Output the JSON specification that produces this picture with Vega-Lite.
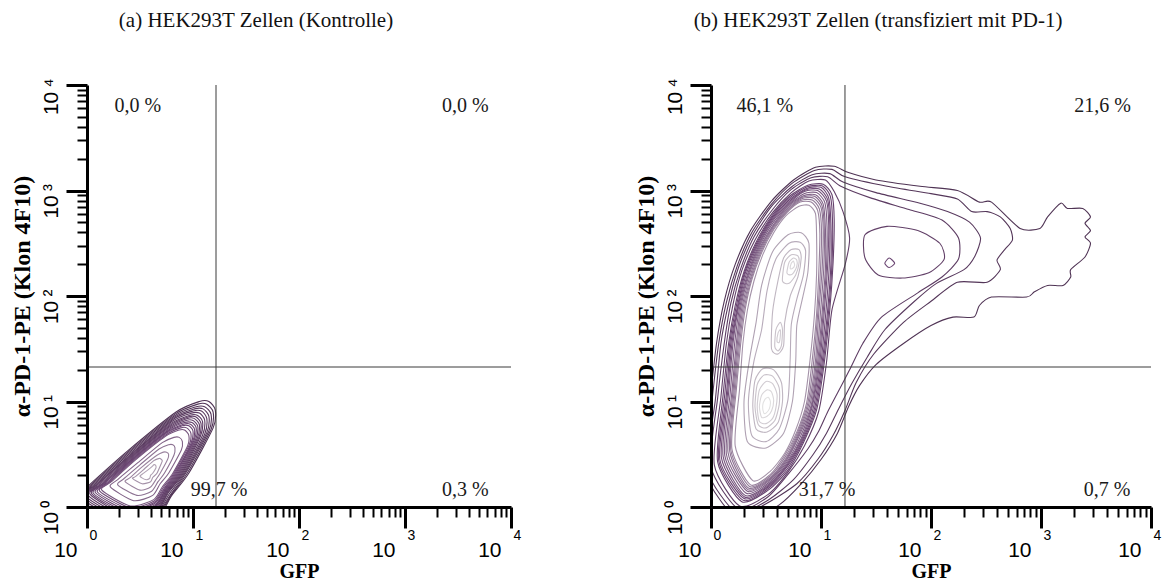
{
"$schema": "https://vega.github.io/schema/vega-lite/v6.json",
"background": "white",
"padding": {"left": 10, "top": 10, "right": 2, "bottom": 0},
"spacing": 113,
"config": {"view": {"stroke": null}, "axis": {"grid": false}},
"datasets": {
"left": [
{"id":"L1","level":1,"i":0,"gfp":-0.15,"pe":0.05},{"id":"L1","level":1,"i":1,"gfp":0.0,"pe":0.19},{"id":"L1","level":1,"i":2,"gfp":0.37,"pe":0.52},{"id":"L1","level":1,"i":3,"gfp":0.84,"pe":0.90},{"id":"L1","level":1,"i":4,"gfp":1.06,"pe":1.00},{"id":"L1","level":1,"i":5,"gfp":1.15,"pe":1.00},{"id":"L1","level":1,"i":6,"gfp":1.21,"pe":0.92},{"id":"L1","level":1,"i":7,"gfp":1.19,"pe":0.75},{"id":"L1","level":1,"i":8,"gfp":0.96,"pe":0.32},{"id":"L1","level":1,"i":9,"gfp":0.80,"pe":0.11},{"id":"L1","level":1,"i":10,"gfp":0.66,"pe":-0.10},{"id":"L1","level":1,"i":11,"gfp":0.30,"pe":-0.20},
{"id":"L1b","level":1.5,"i":0,"gfp":-0.125,"pe":0.06},{"id":"L1b","level":1.5,"i":1,"gfp":0.02,"pe":0.195},{"id":"L1b","level":1.5,"i":2,"gfp":0.38,"pe":0.515},{"id":"L1b","level":1.5,"i":3,"gfp":0.83,"pe":0.88},{"id":"L1b","level":1.5,"i":4,"gfp":1.045,"pe":0.975},{"id":"L1b","level":1.5,"i":5,"gfp":1.13,"pe":0.975},{"id":"L1b","level":1.5,"i":6,"gfp":1.19,"pe":0.90},{"id":"L1b","level":1.5,"i":7,"gfp":1.17,"pe":0.735},{"id":"L1b","level":1.5,"i":8,"gfp":0.945,"pe":0.32},{"id":"L1b","level":1.5,"i":9,"gfp":0.795,"pe":0.115},{"id":"L1b","level":1.5,"i":10,"gfp":0.655,"pe":-0.085},{"id":"L1b","level":1.5,"i":11,"gfp":0.31,"pe":-0.18},
{"id":"L2","level":2,"i":0,"gfp":-0.10,"pe":0.07},{"id":"L2","level":2,"i":1,"gfp":0.04,"pe":0.20},{"id":"L2","level":2,"i":2,"gfp":0.39,"pe":0.51},{"id":"L2","level":2,"i":3,"gfp":0.82,"pe":0.86},{"id":"L2","level":2,"i":4,"gfp":1.03,"pe":0.95},{"id":"L2","level":2,"i":5,"gfp":1.11,"pe":0.95},{"id":"L2","level":2,"i":6,"gfp":1.17,"pe":0.88},{"id":"L2","level":2,"i":7,"gfp":1.15,"pe":0.72},{"id":"L2","level":2,"i":8,"gfp":0.93,"pe":0.32},{"id":"L2","level":2,"i":9,"gfp":0.79,"pe":0.12},{"id":"L2","level":2,"i":10,"gfp":0.65,"pe":-0.07},{"id":"L2","level":2,"i":11,"gfp":0.32,"pe":-0.16},
{"id":"L2b","level":2.5,"i":0,"gfp":-0.08,"pe":0.08},{"id":"L2b","level":2.5,"i":1,"gfp":0.06,"pe":0.205},{"id":"L2b","level":2.5,"i":2,"gfp":0.395,"pe":0.50},{"id":"L2b","level":2.5,"i":3,"gfp":0.815,"pe":0.845},{"id":"L2b","level":2.5,"i":4,"gfp":1.015,"pe":0.93},{"id":"L2b","level":2.5,"i":5,"gfp":1.095,"pe":0.93},{"id":"L2b","level":2.5,"i":6,"gfp":1.15,"pe":0.86},{"id":"L2b","level":2.5,"i":7,"gfp":1.13,"pe":0.705},{"id":"L2b","level":2.5,"i":8,"gfp":0.92,"pe":0.32},{"id":"L2b","level":2.5,"i":9,"gfp":0.78,"pe":0.13},{"id":"L2b","level":2.5,"i":10,"gfp":0.65,"pe":-0.06},{"id":"L2b","level":2.5,"i":11,"gfp":0.33,"pe":-0.145},
{"id":"L3","level":3,"i":0,"gfp":-0.06,"pe":0.09},{"id":"L3","level":3,"i":1,"gfp":0.08,"pe":0.21},{"id":"L3","level":3,"i":2,"gfp":0.40,"pe":0.49},{"id":"L3","level":3,"i":3,"gfp":0.81,"pe":0.83},{"id":"L3","level":3,"i":4,"gfp":1.00,"pe":0.91},{"id":"L3","level":3,"i":5,"gfp":1.08,"pe":0.91},{"id":"L3","level":3,"i":6,"gfp":1.13,"pe":0.84},{"id":"L3","level":3,"i":7,"gfp":1.11,"pe":0.69},{"id":"L3","level":3,"i":8,"gfp":0.91,"pe":0.32},{"id":"L3","level":3,"i":9,"gfp":0.77,"pe":0.14},{"id":"L3","level":3,"i":10,"gfp":0.65,"pe":-0.05},{"id":"L3","level":3,"i":11,"gfp":0.34,"pe":-0.13},
{"id":"L3b","level":3.5,"i":0,"gfp":-0.035,"pe":0.095},{"id":"L3b","level":3.5,"i":1,"gfp":0.095,"pe":0.215},{"id":"L3b","level":3.5,"i":2,"gfp":0.405,"pe":0.485},{"id":"L3b","level":3.5,"i":3,"gfp":0.80,"pe":0.81},{"id":"L3b","level":3.5,"i":4,"gfp":0.985,"pe":0.89},{"id":"L3b","level":3.5,"i":5,"gfp":1.06,"pe":0.89},{"id":"L3b","level":3.5,"i":6,"gfp":1.11,"pe":0.825},{"id":"L3b","level":3.5,"i":7,"gfp":1.09,"pe":0.68},{"id":"L3b","level":3.5,"i":8,"gfp":0.90,"pe":0.32},{"id":"L3b","level":3.5,"i":9,"gfp":0.765,"pe":0.145},{"id":"L3b","level":3.5,"i":10,"gfp":0.65,"pe":-0.035},{"id":"L3b","level":3.5,"i":11,"gfp":0.345,"pe":-0.115},
{"id":"L4","level":4,"i":0,"gfp":-0.01,"pe":0.10},{"id":"L4","level":4,"i":1,"gfp":0.11,"pe":0.22},{"id":"L4","level":4,"i":2,"gfp":0.41,"pe":0.48},{"id":"L4","level":4,"i":3,"gfp":0.79,"pe":0.79},{"id":"L4","level":4,"i":4,"gfp":0.97,"pe":0.87},{"id":"L4","level":4,"i":5,"gfp":1.04,"pe":0.87},{"id":"L4","level":4,"i":6,"gfp":1.09,"pe":0.81},{"id":"L4","level":4,"i":7,"gfp":1.07,"pe":0.67},{"id":"L4","level":4,"i":8,"gfp":0.89,"pe":0.32},{"id":"L4","level":4,"i":9,"gfp":0.76,"pe":0.15},{"id":"L4","level":4,"i":10,"gfp":0.65,"pe":-0.02},{"id":"L4","level":4,"i":11,"gfp":0.35,"pe":-0.10},
{"id":"L4b","level":4.5,"i":0,"gfp":0.01,"pe":0.11},{"id":"L4b","level":4.5,"i":1,"gfp":0.125,"pe":0.22},{"id":"L4b","level":4.5,"i":2,"gfp":0.415,"pe":0.475},{"id":"L4b","level":4.5,"i":3,"gfp":0.785,"pe":0.775},{"id":"L4b","level":4.5,"i":4,"gfp":0.96,"pe":0.855},{"id":"L4b","level":4.5,"i":5,"gfp":1.025,"pe":0.855},{"id":"L4b","level":4.5,"i":6,"gfp":1.075,"pe":0.795},{"id":"L4b","level":4.5,"i":7,"gfp":1.055,"pe":0.66},{"id":"L4b","level":4.5,"i":8,"gfp":0.88,"pe":0.32},{"id":"L4b","level":4.5,"i":9,"gfp":0.755,"pe":0.155},{"id":"L4b","level":4.5,"i":10,"gfp":0.645,"pe":-0.01},{"id":"L4b","level":4.5,"i":11,"gfp":0.36,"pe":-0.09},
{"id":"L5","level":5,"i":0,"gfp":0.03,"pe":0.12},{"id":"L5","level":5,"i":1,"gfp":0.14,"pe":0.22},{"id":"L5","level":5,"i":2,"gfp":0.42,"pe":0.47},{"id":"L5","level":5,"i":3,"gfp":0.78,"pe":0.76},{"id":"L5","level":5,"i":4,"gfp":0.95,"pe":0.84},{"id":"L5","level":5,"i":5,"gfp":1.01,"pe":0.84},{"id":"L5","level":5,"i":6,"gfp":1.06,"pe":0.78},{"id":"L5","level":5,"i":7,"gfp":1.04,"pe":0.65},{"id":"L5","level":5,"i":8,"gfp":0.87,"pe":0.32},{"id":"L5","level":5,"i":9,"gfp":0.75,"pe":0.16},{"id":"L5","level":5,"i":10,"gfp":0.64,"pe":0.00},{"id":"L5","level":5,"i":11,"gfp":0.37,"pe":-0.08},
{"id":"L5b","level":5.5,"i":0,"gfp":0.045,"pe":0.125},{"id":"L5b","level":5.5,"i":1,"gfp":0.155,"pe":0.225},{"id":"L5b","level":5.5,"i":2,"gfp":0.425,"pe":0.465},{"id":"L5b","level":5.5,"i":3,"gfp":0.775,"pe":0.745},{"id":"L5b","level":5.5,"i":4,"gfp":0.935,"pe":0.82},{"id":"L5b","level":5.5,"i":5,"gfp":1.00,"pe":0.82},{"id":"L5b","level":5.5,"i":6,"gfp":1.045,"pe":0.765},{"id":"L5b","level":5.5,"i":7,"gfp":1.025,"pe":0.64},{"id":"L5b","level":5.5,"i":8,"gfp":0.86,"pe":0.32},{"id":"L5b","level":5.5,"i":9,"gfp":0.745,"pe":0.165},{"id":"L5b","level":5.5,"i":10,"gfp":0.64,"pe":0.01},{"id":"L5b","level":5.5,"i":11,"gfp":0.375,"pe":-0.065},
{"id":"L6","level":6,"i":0,"gfp":0.06,"pe":0.13},{"id":"L6","level":6,"i":1,"gfp":0.17,"pe":0.23},{"id":"L6","level":6,"i":2,"gfp":0.43,"pe":0.46},{"id":"L6","level":6,"i":3,"gfp":0.77,"pe":0.73},{"id":"L6","level":6,"i":4,"gfp":0.92,"pe":0.80},{"id":"L6","level":6,"i":5,"gfp":0.99,"pe":0.80},{"id":"L6","level":6,"i":6,"gfp":1.03,"pe":0.75},{"id":"L6","level":6,"i":7,"gfp":1.01,"pe":0.63},{"id":"L6","level":6,"i":8,"gfp":0.85,"pe":0.32},{"id":"L6","level":6,"i":9,"gfp":0.74,"pe":0.17},{"id":"L6","level":6,"i":10,"gfp":0.64,"pe":0.02},{"id":"L6","level":6,"i":11,"gfp":0.38,"pe":-0.05},
{"id":"L6b","level":6.5,"i":0,"gfp":0.08,"pe":0.135},{"id":"L6b","level":6.5,"i":1,"gfp":0.185,"pe":0.23},{"id":"L6b","level":6.5,"i":2,"gfp":0.435,"pe":0.455},{"id":"L6b","level":6.5,"i":3,"gfp":0.76,"pe":0.715},{"id":"L6b","level":6.5,"i":4,"gfp":0.91,"pe":0.785},{"id":"L6b","level":6.5,"i":5,"gfp":0.975,"pe":0.785},{"id":"L6b","level":6.5,"i":6,"gfp":1.015,"pe":0.735},{"id":"L6b","level":6.5,"i":7,"gfp":0.995,"pe":0.615},{"id":"L6b","level":6.5,"i":8,"gfp":0.84,"pe":0.32},{"id":"L6b","level":6.5,"i":9,"gfp":0.735,"pe":0.175},{"id":"L6b","level":6.5,"i":10,"gfp":0.635,"pe":0.03},{"id":"L6b","level":6.5,"i":11,"gfp":0.39,"pe":-0.035},
{"id":"L7","level":7,"i":0,"gfp":0.10,"pe":0.14},{"id":"L7","level":7,"i":1,"gfp":0.20,"pe":0.23},{"id":"L7","level":7,"i":2,"gfp":0.44,"pe":0.45},{"id":"L7","level":7,"i":3,"gfp":0.75,"pe":0.70},{"id":"L7","level":7,"i":4,"gfp":0.90,"pe":0.77},{"id":"L7","level":7,"i":5,"gfp":0.96,"pe":0.77},{"id":"L7","level":7,"i":6,"gfp":1.00,"pe":0.72},{"id":"L7","level":7,"i":7,"gfp":0.98,"pe":0.60},{"id":"L7","level":7,"i":8,"gfp":0.83,"pe":0.32},{"id":"L7","level":7,"i":9,"gfp":0.73,"pe":0.18},{"id":"L7","level":7,"i":10,"gfp":0.63,"pe":0.04},{"id":"L7","level":7,"i":11,"gfp":0.40,"pe":-0.02},
{"id":"L7b","level":7.5,"i":0,"gfp":0.12,"pe":0.15},{"id":"L7b","level":7.5,"i":1,"gfp":0.215,"pe":0.235},{"id":"L7b","level":7.5,"i":2,"gfp":0.445,"pe":0.445},{"id":"L7b","level":7.5,"i":3,"gfp":0.745,"pe":0.685},{"id":"L7b","level":7.5,"i":4,"gfp":0.885,"pe":0.75},{"id":"L7b","level":7.5,"i":5,"gfp":0.94,"pe":0.75},{"id":"L7b","level":7.5,"i":6,"gfp":0.98,"pe":0.70},{"id":"L7b","level":7.5,"i":7,"gfp":0.965,"pe":0.59},{"id":"L7b","level":7.5,"i":8,"gfp":0.82,"pe":0.32},{"id":"L7b","level":7.5,"i":9,"gfp":0.72,"pe":0.185},{"id":"L7b","level":7.5,"i":10,"gfp":0.63,"pe":0.055},{"id":"L7b","level":7.5,"i":11,"gfp":0.405,"pe":-0.005},
{"id":"L8","level":8,"i":0,"gfp":0.14,"pe":0.16},{"id":"L8","level":8,"i":1,"gfp":0.23,"pe":0.24},{"id":"L8","level":8,"i":2,"gfp":0.45,"pe":0.44},{"id":"L8","level":8,"i":3,"gfp":0.74,"pe":0.67},{"id":"L8","level":8,"i":4,"gfp":0.87,"pe":0.73},{"id":"L8","level":8,"i":5,"gfp":0.92,"pe":0.73},{"id":"L8","level":8,"i":6,"gfp":0.96,"pe":0.68},{"id":"L8","level":8,"i":7,"gfp":0.95,"pe":0.58},{"id":"L8","level":8,"i":8,"gfp":0.81,"pe":0.32},{"id":"L8","level":8,"i":9,"gfp":0.71,"pe":0.19},{"id":"L8","level":8,"i":10,"gfp":0.63,"pe":0.07},{"id":"L8","level":8,"i":11,"gfp":0.41,"pe":0.01},
{"id":"L9","level":9,"i":0,"gfp":0.22,"pe":0.19},{"id":"L9","level":9,"i":1,"gfp":0.29,"pe":0.26},{"id":"L9","level":9,"i":2,"gfp":0.48,"pe":0.42},{"id":"L9","level":9,"i":3,"gfp":0.71,"pe":0.61},{"id":"L9","level":9,"i":4,"gfp":0.82,"pe":0.66},{"id":"L9","level":9,"i":5,"gfp":0.87,"pe":0.66},{"id":"L9","level":9,"i":6,"gfp":0.90,"pe":0.62},{"id":"L9","level":9,"i":7,"gfp":0.89,"pe":0.54},{"id":"L9","level":9,"i":8,"gfp":0.77,"pe":0.32},{"id":"L9","level":9,"i":9,"gfp":0.69,"pe":0.22},{"id":"L9","level":9,"i":10,"gfp":0.62,"pe":0.11},{"id":"L9","level":9,"i":11,"gfp":0.44,"pe":0.06},
{"id":"L10","level":10,"i":0,"gfp":0.29,"pe":0.21},{"id":"L10","level":10,"i":1,"gfp":0.35,"pe":0.27},{"id":"L10","level":10,"i":2,"gfp":0.50,"pe":0.40},{"id":"L10","level":10,"i":3,"gfp":0.68,"pe":0.55},{"id":"L10","level":10,"i":4,"gfp":0.77,"pe":0.59},{"id":"L10","level":10,"i":5,"gfp":0.81,"pe":0.59},{"id":"L10","level":10,"i":6,"gfp":0.83,"pe":0.56},{"id":"L10","level":10,"i":7,"gfp":0.82,"pe":0.49},{"id":"L10","level":10,"i":8,"gfp":0.73,"pe":0.32},{"id":"L10","level":10,"i":9,"gfp":0.67,"pe":0.24},{"id":"L10","level":10,"i":10,"gfp":0.61,"pe":0.15},{"id":"L10","level":10,"i":11,"gfp":0.47,"pe":0.11},
{"id":"L11","level":11,"i":0,"gfp":0.36,"pe":0.24},{"id":"L11","level":11,"i":1,"gfp":0.41,"pe":0.28},{"id":"L11","level":11,"i":2,"gfp":0.52,"pe":0.38},{"id":"L11","level":11,"i":3,"gfp":0.66,"pe":0.49},{"id":"L11","level":11,"i":4,"gfp":0.72,"pe":0.52},{"id":"L11","level":11,"i":5,"gfp":0.75,"pe":0.52},{"id":"L11","level":11,"i":6,"gfp":0.77,"pe":0.50},{"id":"L11","level":11,"i":7,"gfp":0.76,"pe":0.45},{"id":"L11","level":11,"i":8,"gfp":0.69,"pe":0.32},{"id":"L11","level":11,"i":9,"gfp":0.65,"pe":0.26},{"id":"L11","level":11,"i":10,"gfp":0.60,"pe":0.19},{"id":"L11","level":11,"i":11,"gfp":0.50,"pe":0.16},
{"id":"L12","level":12,"i":0,"gfp":0.43,"pe":0.27},{"id":"L12","level":12,"i":1,"gfp":0.46,"pe":0.29},{"id":"L12","level":12,"i":2,"gfp":0.54,"pe":0.36},{"id":"L12","level":12,"i":3,"gfp":0.63,"pe":0.44},{"id":"L12","level":12,"i":4,"gfp":0.68,"pe":0.46},{"id":"L12","level":12,"i":5,"gfp":0.69,"pe":0.46},{"id":"L12","level":12,"i":6,"gfp":0.71,"pe":0.44},{"id":"L12","level":12,"i":7,"gfp":0.70,"pe":0.41},{"id":"L12","level":12,"i":8,"gfp":0.66,"pe":0.32},{"id":"L12","level":12,"i":9,"gfp":0.62,"pe":0.28},{"id":"L12","level":12,"i":10,"gfp":0.60,"pe":0.24},{"id":"L12","level":12,"i":11,"gfp":0.52,"pe":0.22},
{"id":"L13","level":13,"i":0,"gfp":0.50,"pe":0.29},{"id":"L13","level":13,"i":1,"gfp":0.52,"pe":0.31},{"id":"L13","level":13,"i":2,"gfp":0.56,"pe":0.34},{"id":"L13","level":13,"i":3,"gfp":0.61,"pe":0.38},{"id":"L13","level":13,"i":4,"gfp":0.63,"pe":0.40},{"id":"L13","level":13,"i":5,"gfp":0.64,"pe":0.40},{"id":"L13","level":13,"i":6,"gfp":0.65,"pe":0.39},{"id":"L13","level":13,"i":7,"gfp":0.65,"pe":0.37},{"id":"L13","level":13,"i":8,"gfp":0.62,"pe":0.32},{"id":"L13","level":13,"i":9,"gfp":0.60,"pe":0.30},{"id":"L13","level":13,"i":10,"gfp":0.59,"pe":0.27},{"id":"L13","level":13,"i":11,"gfp":0.55,"pe":0.26}
],
"right": [
{"id":"R1","level":1,"i":0,"gfp":-0.08,"pe":0.30},{"id":"R1","level":1,"i":1,"gfp":-0.01,"pe":1.00},{"id":"R1","level":1,"i":2,"gfp":0.05,"pe":1.55},{"id":"R1","level":1,"i":3,"gfp":0.12,"pe":1.95},{"id":"R1","level":1,"i":4,"gfp":0.22,"pe":2.30},{"id":"R1","level":1,"i":5,"gfp":0.36,"pe":2.62},{"id":"R1","level":1,"i":6,"gfp":0.55,"pe":2.90},{"id":"R1","level":1,"i":7,"gfp":0.75,"pe":3.10},{"id":"R1","level":1,"i":8,"gfp":0.95,"pe":3.22},{"id":"R1","level":1,"i":9,"gfp":1.12,"pe":3.23},{"id":"R1","level":1,"i":10,"gfp":1.25,"pe":3.17},{"id":"R1","level":1,"i":11,"gfp":1.50,"pe":3.10},{"id":"R1","level":1,"i":12,"gfp":1.90,"pe":3.04},{"id":"R1","level":1,"i":13,"gfp":2.24,"pe":3.00},{"id":"R1","level":1,"i":14,"gfp":2.44,"pe":2.89},{"id":"R1","level":1,"i":15,"gfp":2.55,"pe":2.89},{"id":"R1","level":1,"i":16,"gfp":2.81,"pe":2.64},{"id":"R1","level":1,"i":17,"gfp":2.99,"pe":2.64},{"id":"R1","level":1,"i":18,"gfp":3.06,"pe":2.75},{"id":"R1","level":1,"i":19,"gfp":3.18,"pe":2.88},{"id":"R1","level":1,"i":20,"gfp":3.24,"pe":2.83},{"id":"R1","level":1,"i":21,"gfp":3.38,"pe":2.83},{"id":"R1","level":1,"i":22,"gfp":3.45,"pe":2.75},{"id":"R1","level":1,"i":23,"gfp":3.40,"pe":2.69},{"id":"R1","level":1,"i":24,"gfp":3.45,"pe":2.62},{"id":"R1","level":1,"i":25,"gfp":3.40,"pe":2.56},{"id":"R1","level":1,"i":26,"gfp":3.45,"pe":2.50},{"id":"R1","level":1,"i":27,"gfp":3.40,"pe":2.37},{"id":"R1","level":1,"i":28,"gfp":3.27,"pe":2.25},{"id":"R1","level":1,"i":29,"gfp":3.27,"pe":2.18},{"id":"R1","level":1,"i":30,"gfp":3.20,"pe":2.10},{"id":"R1","level":1,"i":31,"gfp":3.06,"pe":2.10},{"id":"R1","level":1,"i":32,"gfp":2.94,"pe":2.04},{"id":"R1","level":1,"i":33,"gfp":2.87,"pe":1.99},{"id":"R1","level":1,"i":34,"gfp":2.55,"pe":1.99},{"id":"R1","level":1,"i":35,"gfp":2.44,"pe":1.91},{"id":"R1","level":1,"i":36,"gfp":2.39,"pe":1.80},{"id":"R1","level":1,"i":37,"gfp":2.20,"pe":1.80},{"id":"R1","level":1,"i":38,"gfp":2.00,"pe":1.72},{"id":"R1","level":1,"i":39,"gfp":1.75,"pe":1.55},{"id":"R1","level":1,"i":40,"gfp":1.50,"pe":1.35},{"id":"R1","level":1,"i":41,"gfp":1.35,"pe":1.15},{"id":"R1","level":1,"i":42,"gfp":1.25,"pe":0.95},{"id":"R1","level":1,"i":43,"gfp":1.15,"pe":0.70},{"id":"R1","level":1,"i":44,"gfp":1.00,"pe":0.45},{"id":"R1","level":1,"i":45,"gfp":0.82,"pe":0.22},{"id":"R1","level":1,"i":46,"gfp":0.62,"pe":0.02},{"id":"R1","level":1,"i":47,"gfp":0.35,"pe":-0.12},{"id":"R1","level":1,"i":48,"gfp":0.05,"pe":-0.15},
{"id":"R2","level":2,"i":0,"gfp":-0.05,"pe":0.33},{"id":"R2","level":2,"i":1,"gfp":0.01,"pe":1.01},{"id":"R2","level":2,"i":2,"gfp":0.07,"pe":1.55},{"id":"R2","level":2,"i":3,"gfp":0.14,"pe":1.94},{"id":"R2","level":2,"i":4,"gfp":0.24,"pe":2.29},{"id":"R2","level":2,"i":5,"gfp":0.37,"pe":2.60},{"id":"R2","level":2,"i":6,"gfp":0.55,"pe":2.87},{"id":"R2","level":2,"i":7,"gfp":0.74,"pe":3.07},{"id":"R2","level":2,"i":8,"gfp":0.94,"pe":3.19},{"id":"R2","level":2,"i":9,"gfp":1.10,"pe":3.20},{"id":"R2","level":2,"i":10,"gfp":1.22,"pe":3.13},{"id":"R2","level":2,"i":11,"gfp":1.60,"pe":3.04},{"id":"R2","level":2,"i":12,"gfp":2.00,"pe":2.97},{"id":"R2","level":2,"i":13,"gfp":2.24,"pe":2.92},{"id":"R2","level":2,"i":14,"gfp":2.37,"pe":2.80},{"id":"R2","level":2,"i":15,"gfp":2.51,"pe":2.80},{"id":"R2","level":2,"i":16,"gfp":2.63,"pe":2.75},{"id":"R2","level":2,"i":17,"gfp":2.72,"pe":2.64},{"id":"R2","level":2,"i":18,"gfp":2.74,"pe":2.53},{"id":"R2","level":2,"i":19,"gfp":2.67,"pe":2.44},{"id":"R2","level":2,"i":20,"gfp":2.60,"pe":2.34},{"id":"R2","level":2,"i":21,"gfp":2.63,"pe":2.25},{"id":"R2","level":2,"i":22,"gfp":2.51,"pe":2.13},{"id":"R2","level":2,"i":23,"gfp":2.24,"pe":2.13},{"id":"R2","level":2,"i":24,"gfp":2.00,"pe":1.95},{"id":"R2","level":2,"i":25,"gfp":1.75,"pe":1.75},{"id":"R2","level":2,"i":26,"gfp":1.48,"pe":1.45},{"id":"R2","level":2,"i":27,"gfp":1.32,"pe":1.18},{"id":"R2","level":2,"i":28,"gfp":1.22,"pe":0.92},{"id":"R2","level":2,"i":29,"gfp":1.11,"pe":0.68},{"id":"R2","level":2,"i":30,"gfp":0.97,"pe":0.45},{"id":"R2","level":2,"i":31,"gfp":0.78,"pe":0.22},{"id":"R2","level":2,"i":32,"gfp":0.50,"pe":0.03},{"id":"R2","level":2,"i":33,"gfp":0.22,"pe":-0.09},
{"id":"R3","level":3,"i":0,"gfp":-0.03,"pe":0.35},{"id":"R3","level":3,"i":1,"gfp":0.04,"pe":1.02},{"id":"R3","level":3,"i":2,"gfp":0.09,"pe":1.55},{"id":"R3","level":3,"i":3,"gfp":0.16,"pe":1.93},{"id":"R3","level":3,"i":4,"gfp":0.25,"pe":2.27},{"id":"R3","level":3,"i":5,"gfp":0.38,"pe":2.58},{"id":"R3","level":3,"i":6,"gfp":0.55,"pe":2.85},{"id":"R3","level":3,"i":7,"gfp":0.74,"pe":3.04},{"id":"R3","level":3,"i":8,"gfp":0.92,"pe":3.15},{"id":"R3","level":3,"i":9,"gfp":1.08,"pe":3.16},{"id":"R3","level":3,"i":10,"gfp":1.20,"pe":3.08},{"id":"R3","level":3,"i":11,"gfp":1.50,"pe":2.98},{"id":"R3","level":3,"i":12,"gfp":1.90,"pe":2.88},{"id":"R3","level":3,"i":13,"gfp":2.15,"pe":2.80},{"id":"R3","level":3,"i":14,"gfp":2.35,"pe":2.70},{"id":"R3","level":3,"i":15,"gfp":2.45,"pe":2.55},{"id":"R3","level":3,"i":16,"gfp":2.40,"pe":2.38},{"id":"R3","level":3,"i":17,"gfp":2.30,"pe":2.25},{"id":"R3","level":3,"i":18,"gfp":2.05,"pe":2.12},{"id":"R3","level":3,"i":19,"gfp":1.85,"pe":1.95},{"id":"R3","level":3,"i":20,"gfp":1.58,"pe":1.68},{"id":"R3","level":3,"i":21,"gfp":1.42,"pe":1.42},{"id":"R3","level":3,"i":22,"gfp":1.28,"pe":1.17},{"id":"R3","level":3,"i":23,"gfp":1.16,"pe":0.93},{"id":"R3","level":3,"i":24,"gfp":1.05,"pe":0.70},{"id":"R3","level":3,"i":25,"gfp":0.93,"pe":0.50},{"id":"R3","level":3,"i":26,"gfp":0.75,"pe":0.26},{"id":"R3","level":3,"i":27,"gfp":0.51,"pe":0.06},{"id":"R3","level":3,"i":28,"gfp":0.23,"pe":-0.05},
{"id":"R4","level":4,"i":0,"gfp":0.00,"pe":0.38},{"id":"R4","level":4,"i":1,"gfp":0.06,"pe":1.03},{"id":"R4","level":4,"i":2,"gfp":0.12,"pe":1.55},{"id":"R4","level":4,"i":3,"gfp":0.18,"pe":1.93},{"id":"R4","level":4,"i":4,"gfp":0.27,"pe":2.26},{"id":"R4","level":4,"i":5,"gfp":0.39,"pe":2.56},{"id":"R4","level":4,"i":6,"gfp":0.56,"pe":2.82},{"id":"R4","level":4,"i":7,"gfp":0.73,"pe":3.01},{"id":"R4","level":4,"i":8,"gfp":0.91,"pe":3.12},{"id":"R4","level":4,"i":9,"gfp":1.06,"pe":3.13},{"id":"R4","level":4,"i":10,"gfp":1.18,"pe":3.04},{"id":"R4","level":4,"i":11,"gfp":1.45,"pe":2.93},{"id":"R4","level":4,"i":12,"gfp":1.80,"pe":2.82},{"id":"R4","level":4,"i":13,"gfp":2.10,"pe":2.72},{"id":"R4","level":4,"i":14,"gfp":2.25,"pe":2.55},{"id":"R4","level":4,"i":15,"gfp":2.25,"pe":2.35},{"id":"R4","level":4,"i":16,"gfp":2.10,"pe":2.18},{"id":"R4","level":4,"i":17,"gfp":1.88,"pe":2.03},{"id":"R4","level":4,"i":18,"gfp":1.55,"pe":1.80},{"id":"R4","level":4,"i":19,"gfp":1.38,"pe":1.55},{"id":"R4","level":4,"i":20,"gfp":1.26,"pe":1.30},{"id":"R4","level":4,"i":21,"gfp":1.15,"pe":1.08},{"id":"R4","level":4,"i":22,"gfp":1.06,"pe":0.90},{"id":"R4","level":4,"i":23,"gfp":0.98,"pe":0.72},{"id":"R4","level":4,"i":24,"gfp":0.88,"pe":0.55},{"id":"R4","level":4,"i":25,"gfp":0.70,"pe":0.31},{"id":"R4","level":4,"i":26,"gfp":0.51,"pe":0.09},{"id":"R4","level":4,"i":27,"gfp":0.25,"pe":-0.02},
{"id":"R5","level":5,"i":0,"gfp":0.03,"pe":0.40},{"id":"R5","level":5,"i":1,"gfp":0.09,"pe":1.04},{"id":"R5","level":5,"i":2,"gfp":0.14,"pe":1.55},{"id":"R5","level":5,"i":3,"gfp":0.20,"pe":1.92},{"id":"R5","level":5,"i":4,"gfp":0.28,"pe":2.24},{"id":"R5","level":5,"i":5,"gfp":0.40,"pe":2.53},{"id":"R5","level":5,"i":6,"gfp":0.56,"pe":2.79},{"id":"R5","level":5,"i":7,"gfp":0.73,"pe":2.98},{"id":"R5","level":5,"i":8,"gfp":0.89,"pe":3.09},{"id":"R5","level":5,"i":9,"gfp":1.04,"pe":3.10},{"id":"R5","level":5,"i":10,"gfp":1.12,"pe":2.99},{"id":"R5","level":5,"i":11,"gfp":1.20,"pe":2.80},{"id":"R5","level":5,"i":12,"gfp":1.26,"pe":2.55},{"id":"R5","level":5,"i":13,"gfp":1.22,"pe":2.30},{"id":"R5","level":5,"i":14,"gfp":1.10,"pe":1.87},{"id":"R5","level":5,"i":15,"gfp":1.05,"pe":1.37},{"id":"R5","level":5,"i":16,"gfp":0.98,"pe":0.91},{"id":"R5","level":5,"i":17,"gfp":0.85,"pe":0.58},{"id":"R5","level":5,"i":18,"gfp":0.70,"pe":0.33},{"id":"R5","level":5,"i":19,"gfp":0.52,"pe":0.12},{"id":"R5","level":5,"i":20,"gfp":0.26,"pe":0.01},
{"id":"R6","level":6,"i":0,"gfp":0.06,"pe":0.43},{"id":"R6","level":6,"i":1,"gfp":0.11,"pe":1.06},{"id":"R6","level":6,"i":2,"gfp":0.16,"pe":1.55},{"id":"R6","level":6,"i":3,"gfp":0.22,"pe":1.91},{"id":"R6","level":6,"i":4,"gfp":0.30,"pe":2.23},{"id":"R6","level":6,"i":5,"gfp":0.41,"pe":2.51},{"id":"R6","level":6,"i":6,"gfp":0.56,"pe":2.77},{"id":"R6","level":6,"i":7,"gfp":0.72,"pe":2.95},{"id":"R6","level":6,"i":8,"gfp":0.88,"pe":3.05},{"id":"R6","level":6,"i":9,"gfp":1.02,"pe":3.06},{"id":"R6","level":6,"i":10,"gfp":1.10,"pe":2.96},{"id":"R6","level":6,"i":11,"gfp":1.12,"pe":2.72},{"id":"R6","level":6,"i":12,"gfp":1.11,"pe":2.32},{"id":"R6","level":6,"i":13,"gfp":1.08,"pe":1.87},{"id":"R6","level":6,"i":14,"gfp":1.03,"pe":1.37},{"id":"R6","level":6,"i":15,"gfp":0.96,"pe":0.92},{"id":"R6","level":6,"i":16,"gfp":0.84,"pe":0.61},{"id":"R6","level":6,"i":17,"gfp":0.70,"pe":0.35},{"id":"R6","level":6,"i":18,"gfp":0.52,"pe":0.16},{"id":"R6","level":6,"i":19,"gfp":0.28,"pe":0.05},
{"id":"R6b","level":6.5,"i":0,"gfp":0.07,"pe":0.44},{"id":"R6b","level":6.5,"i":1,"gfp":0.125,"pe":1.065},{"id":"R6b","level":6.5,"i":2,"gfp":0.17,"pe":1.55},{"id":"R6b","level":6.5,"i":3,"gfp":0.23,"pe":1.905},{"id":"R6b","level":6.5,"i":4,"gfp":0.305,"pe":2.22},{"id":"R6b","level":6.5,"i":5,"gfp":0.415,"pe":2.50},{"id":"R6b","level":6.5,"i":6,"gfp":0.56,"pe":2.755},{"id":"R6b","level":6.5,"i":7,"gfp":0.715,"pe":2.93},{"id":"R6b","level":6.5,"i":8,"gfp":0.875,"pe":3.035},{"id":"R6b","level":6.5,"i":9,"gfp":1.01,"pe":3.045},{"id":"R6b","level":6.5,"i":10,"gfp":1.085,"pe":2.945},{"id":"R6b","level":6.5,"i":11,"gfp":1.105,"pe":2.705},{"id":"R6b","level":6.5,"i":12,"gfp":1.10,"pe":2.31},{"id":"R6b","level":6.5,"i":13,"gfp":1.07,"pe":1.865},{"id":"R6b","level":6.5,"i":14,"gfp":1.02,"pe":1.37},{"id":"R6b","level":6.5,"i":15,"gfp":0.95,"pe":0.925},{"id":"R6b","level":6.5,"i":16,"gfp":0.835,"pe":0.62},{"id":"R6b","level":6.5,"i":17,"gfp":0.695,"pe":0.365},{"id":"R6b","level":6.5,"i":18,"gfp":0.52,"pe":0.175},{"id":"R6b","level":6.5,"i":19,"gfp":0.29,"pe":0.065},
{"id":"R7","level":7,"i":0,"gfp":0.08,"pe":0.45},{"id":"R7","level":7,"i":1,"gfp":0.14,"pe":1.07},{"id":"R7","level":7,"i":2,"gfp":0.18,"pe":1.55},{"id":"R7","level":7,"i":3,"gfp":0.24,"pe":1.90},{"id":"R7","level":7,"i":4,"gfp":0.31,"pe":2.21},{"id":"R7","level":7,"i":5,"gfp":0.42,"pe":2.49},{"id":"R7","level":7,"i":6,"gfp":0.56,"pe":2.74},{"id":"R7","level":7,"i":7,"gfp":0.71,"pe":2.91},{"id":"R7","level":7,"i":8,"gfp":0.87,"pe":3.02},{"id":"R7","level":7,"i":9,"gfp":1.00,"pe":3.03},{"id":"R7","level":7,"i":10,"gfp":1.07,"pe":2.93},{"id":"R7","level":7,"i":11,"gfp":1.09,"pe":2.69},{"id":"R7","level":7,"i":12,"gfp":1.09,"pe":2.30},{"id":"R7","level":7,"i":13,"gfp":1.06,"pe":1.86},{"id":"R7","level":7,"i":14,"gfp":1.01,"pe":1.37},{"id":"R7","level":7,"i":15,"gfp":0.94,"pe":0.93},{"id":"R7","level":7,"i":16,"gfp":0.83,"pe":0.63},{"id":"R7","level":7,"i":17,"gfp":0.69,"pe":0.38},{"id":"R7","level":7,"i":18,"gfp":0.52,"pe":0.19},{"id":"R7","level":7,"i":19,"gfp":0.30,"pe":0.08},
{"id":"R7b","level":7.5,"i":0,"gfp":0.095,"pe":0.465},{"id":"R7b","level":7.5,"i":1,"gfp":0.15,"pe":1.075},{"id":"R7b","level":7.5,"i":2,"gfp":0.19,"pe":1.55},{"id":"R7b","level":7.5,"i":3,"gfp":0.245,"pe":1.895},{"id":"R7b","level":7.5,"i":4,"gfp":0.32,"pe":2.205},{"id":"R7b","level":7.5,"i":5,"gfp":0.425,"pe":2.48},{"id":"R7b","level":7.5,"i":6,"gfp":0.56,"pe":2.725},{"id":"R7b","level":7.5,"i":7,"gfp":0.71,"pe":2.895},{"id":"R7b","level":7.5,"i":8,"gfp":0.86,"pe":3.005},{"id":"R7b","level":7.5,"i":9,"gfp":0.985,"pe":3.015},{"id":"R7b","level":7.5,"i":10,"gfp":1.06,"pe":2.915},{"id":"R7b","level":7.5,"i":11,"gfp":1.08,"pe":2.68},{"id":"R7b","level":7.5,"i":12,"gfp":1.075,"pe":2.29},{"id":"R7b","level":7.5,"i":13,"gfp":1.045,"pe":1.855},{"id":"R7b","level":7.5,"i":14,"gfp":1.00,"pe":1.375},{"id":"R7b","level":7.5,"i":15,"gfp":0.93,"pe":0.94},{"id":"R7b","level":7.5,"i":16,"gfp":0.825,"pe":0.64},{"id":"R7b","level":7.5,"i":17,"gfp":0.69,"pe":0.395},{"id":"R7b","level":7.5,"i":18,"gfp":0.525,"pe":0.205},{"id":"R7b","level":7.5,"i":19,"gfp":0.305,"pe":0.095},
{"id":"R8","level":8,"i":0,"gfp":0.11,"pe":0.48},{"id":"R8","level":8,"i":1,"gfp":0.16,"pe":1.08},{"id":"R8","level":8,"i":2,"gfp":0.20,"pe":1.55},{"id":"R8","level":8,"i":3,"gfp":0.25,"pe":1.89},{"id":"R8","level":8,"i":4,"gfp":0.33,"pe":2.20},{"id":"R8","level":8,"i":5,"gfp":0.43,"pe":2.47},{"id":"R8","level":8,"i":6,"gfp":0.56,"pe":2.71},{"id":"R8","level":8,"i":7,"gfp":0.71,"pe":2.88},{"id":"R8","level":8,"i":8,"gfp":0.85,"pe":2.99},{"id":"R8","level":8,"i":9,"gfp":0.97,"pe":3.00},{"id":"R8","level":8,"i":10,"gfp":1.05,"pe":2.90},{"id":"R8","level":8,"i":11,"gfp":1.07,"pe":2.67},{"id":"R8","level":8,"i":12,"gfp":1.06,"pe":2.28},{"id":"R8","level":8,"i":13,"gfp":1.03,"pe":1.85},{"id":"R8","level":8,"i":14,"gfp":0.99,"pe":1.38},{"id":"R8","level":8,"i":15,"gfp":0.92,"pe":0.95},{"id":"R8","level":8,"i":16,"gfp":0.82,"pe":0.65},{"id":"R8","level":8,"i":17,"gfp":0.69,"pe":0.41},{"id":"R8","level":8,"i":18,"gfp":0.53,"pe":0.22},{"id":"R8","level":8,"i":19,"gfp":0.31,"pe":0.11},
{"id":"R8b","level":8.5,"i":0,"gfp":0.125,"pe":0.49},{"id":"R8b","level":8.5,"i":1,"gfp":0.175,"pe":1.085},{"id":"R8b","level":8.5,"i":2,"gfp":0.215,"pe":1.55},{"id":"R8b","level":8.5,"i":3,"gfp":0.26,"pe":1.89},{"id":"R8b","level":8.5,"i":4,"gfp":0.335,"pe":2.19},{"id":"R8b","level":8.5,"i":5,"gfp":0.435,"pe":2.46},{"id":"R8b","level":8.5,"i":6,"gfp":0.565,"pe":2.695},{"id":"R8b","level":8.5,"i":7,"gfp":0.705,"pe":2.865},{"id":"R8b","level":8.5,"i":8,"gfp":0.845,"pe":2.97},{"id":"R8b","level":8.5,"i":9,"gfp":0.96,"pe":2.98},{"id":"R8b","level":8.5,"i":10,"gfp":1.035,"pe":2.885},{"id":"R8b","level":8.5,"i":11,"gfp":1.055,"pe":2.655},{"id":"R8b","level":8.5,"i":12,"gfp":1.05,"pe":2.27},{"id":"R8b","level":8.5,"i":13,"gfp":1.02,"pe":1.845},{"id":"R8b","level":8.5,"i":14,"gfp":0.98,"pe":1.38},{"id":"R8b","level":8.5,"i":15,"gfp":0.915,"pe":0.955},{"id":"R8b","level":8.5,"i":16,"gfp":0.81,"pe":0.66},{"id":"R8b","level":8.5,"i":17,"gfp":0.685,"pe":0.42},{"id":"R8b","level":8.5,"i":18,"gfp":0.53,"pe":0.235},{"id":"R8b","level":8.5,"i":19,"gfp":0.32,"pe":0.13},
{"id":"R9","level":9,"i":0,"gfp":0.14,"pe":0.50},{"id":"R9","level":9,"i":1,"gfp":0.19,"pe":1.09},{"id":"R9","level":9,"i":2,"gfp":0.23,"pe":1.55},{"id":"R9","level":9,"i":3,"gfp":0.27,"pe":1.89},{"id":"R9","level":9,"i":4,"gfp":0.34,"pe":2.18},{"id":"R9","level":9,"i":5,"gfp":0.44,"pe":2.45},{"id":"R9","level":9,"i":6,"gfp":0.57,"pe":2.68},{"id":"R9","level":9,"i":7,"gfp":0.70,"pe":2.85},{"id":"R9","level":9,"i":8,"gfp":0.84,"pe":2.95},{"id":"R9","level":9,"i":9,"gfp":0.95,"pe":2.96},{"id":"R9","level":9,"i":10,"gfp":1.02,"pe":2.87},{"id":"R9","level":9,"i":11,"gfp":1.04,"pe":2.64},{"id":"R9","level":9,"i":12,"gfp":1.04,"pe":2.26},{"id":"R9","level":9,"i":13,"gfp":1.01,"pe":1.84},{"id":"R9","level":9,"i":14,"gfp":0.97,"pe":1.38},{"id":"R9","level":9,"i":15,"gfp":0.91,"pe":0.96},{"id":"R9","level":9,"i":16,"gfp":0.80,"pe":0.67},{"id":"R9","level":9,"i":17,"gfp":0.68,"pe":0.43},{"id":"R9","level":9,"i":18,"gfp":0.53,"pe":0.25},{"id":"R9","level":9,"i":19,"gfp":0.33,"pe":0.15},
{"id":"R9b","level":9.5,"i":0,"gfp":0.155,"pe":0.515},{"id":"R9b","level":9.5,"i":1,"gfp":0.20,"pe":1.095},{"id":"R9b","level":9.5,"i":2,"gfp":0.24,"pe":1.55},{"id":"R9b","level":9.5,"i":3,"gfp":0.28,"pe":1.885},{"id":"R9b","level":9.5,"i":4,"gfp":0.35,"pe":2.175},{"id":"R9b","level":9.5,"i":5,"gfp":0.445,"pe":2.44},{"id":"R9b","level":9.5,"i":6,"gfp":0.57,"pe":2.67},{"id":"R9b","level":9.5,"i":7,"gfp":0.70,"pe":2.835},{"id":"R9b","level":9.5,"i":8,"gfp":0.83,"pe":2.935},{"id":"R9b","level":9.5,"i":9,"gfp":0.94,"pe":2.945},{"id":"R9b","level":9.5,"i":10,"gfp":1.01,"pe":2.855},{"id":"R9b","level":9.5,"i":11,"gfp":1.03,"pe":2.63},{"id":"R9b","level":9.5,"i":12,"gfp":1.025,"pe":2.255},{"id":"R9b","level":9.5,"i":13,"gfp":0.995,"pe":1.84},{"id":"R9b","level":9.5,"i":14,"gfp":0.96,"pe":1.385},{"id":"R9b","level":9.5,"i":15,"gfp":0.90,"pe":0.97},{"id":"R9b","level":9.5,"i":16,"gfp":0.795,"pe":0.68},{"id":"R9b","level":9.5,"i":17,"gfp":0.68,"pe":0.445},{"id":"R9b","level":9.5,"i":18,"gfp":0.535,"pe":0.265},{"id":"R9b","level":9.5,"i":19,"gfp":0.335,"pe":0.165},
{"id":"R10","level":10,"i":0,"gfp":0.17,"pe":0.53},{"id":"R10","level":10,"i":1,"gfp":0.21,"pe":1.10},{"id":"R10","level":10,"i":2,"gfp":0.25,"pe":1.55},{"id":"R10","level":10,"i":3,"gfp":0.29,"pe":1.88},{"id":"R10","level":10,"i":4,"gfp":0.36,"pe":2.17},{"id":"R10","level":10,"i":5,"gfp":0.45,"pe":2.43},{"id":"R10","level":10,"i":6,"gfp":0.57,"pe":2.66},{"id":"R10","level":10,"i":7,"gfp":0.70,"pe":2.82},{"id":"R10","level":10,"i":8,"gfp":0.82,"pe":2.92},{"id":"R10","level":10,"i":9,"gfp":0.93,"pe":2.93},{"id":"R10","level":10,"i":10,"gfp":1.00,"pe":2.84},{"id":"R10","level":10,"i":11,"gfp":1.02,"pe":2.62},{"id":"R10","level":10,"i":12,"gfp":1.01,"pe":2.25},{"id":"R10","level":10,"i":13,"gfp":0.98,"pe":1.84},{"id":"R10","level":10,"i":14,"gfp":0.95,"pe":1.39},{"id":"R10","level":10,"i":15,"gfp":0.89,"pe":0.98},{"id":"R10","level":10,"i":16,"gfp":0.79,"pe":0.69},{"id":"R10","level":10,"i":17,"gfp":0.68,"pe":0.46},{"id":"R10","level":10,"i":18,"gfp":0.54,"pe":0.28},{"id":"R10","level":10,"i":19,"gfp":0.34,"pe":0.18},
{"id":"R10b","level":10.5,"i":0,"gfp":0.18,"pe":0.54},{"id":"R10b","level":10.5,"i":1,"gfp":0.22,"pe":1.105},{"id":"R10b","level":10.5,"i":2,"gfp":0.26,"pe":1.55},{"id":"R10b","level":10.5,"i":3,"gfp":0.30,"pe":1.875},{"id":"R10b","level":10.5,"i":4,"gfp":0.365,"pe":2.16},{"id":"R10b","level":10.5,"i":5,"gfp":0.455,"pe":2.42},{"id":"R10b","level":10.5,"i":6,"gfp":0.57,"pe":2.645},{"id":"R10b","level":10.5,"i":7,"gfp":0.695,"pe":2.805},{"id":"R10b","level":10.5,"i":8,"gfp":0.815,"pe":2.905},{"id":"R10b","level":10.5,"i":9,"gfp":0.92,"pe":2.91},{"id":"R10b","level":10.5,"i":10,"gfp":0.985,"pe":2.825},{"id":"R10b","level":10.5,"i":11,"gfp":1.005,"pe":2.605},{"id":"R10b","level":10.5,"i":12,"gfp":0.995,"pe":2.24},{"id":"R10b","level":10.5,"i":13,"gfp":0.97,"pe":1.835},{"id":"R10b","level":10.5,"i":14,"gfp":0.935,"pe":1.39},{"id":"R10b","level":10.5,"i":15,"gfp":0.88,"pe":0.985},{"id":"R10b","level":10.5,"i":16,"gfp":0.785,"pe":0.70},{"id":"R10b","level":10.5,"i":17,"gfp":0.675,"pe":0.475},{"id":"R10b","level":10.5,"i":18,"gfp":0.54,"pe":0.295},{"id":"R10b","level":10.5,"i":19,"gfp":0.35,"pe":0.195},
{"id":"R11","level":11,"i":0,"gfp":0.19,"pe":0.55},{"id":"R11","level":11,"i":1,"gfp":0.23,"pe":1.11},{"id":"R11","level":11,"i":2,"gfp":0.27,"pe":1.55},{"id":"R11","level":11,"i":3,"gfp":0.31,"pe":1.87},{"id":"R11","level":11,"i":4,"gfp":0.37,"pe":2.15},{"id":"R11","level":11,"i":5,"gfp":0.46,"pe":2.41},{"id":"R11","level":11,"i":6,"gfp":0.57,"pe":2.63},{"id":"R11","level":11,"i":7,"gfp":0.69,"pe":2.79},{"id":"R11","level":11,"i":8,"gfp":0.81,"pe":2.89},{"id":"R11","level":11,"i":9,"gfp":0.91,"pe":2.89},{"id":"R11","level":11,"i":10,"gfp":0.97,"pe":2.81},{"id":"R11","level":11,"i":11,"gfp":0.99,"pe":2.59},{"id":"R11","level":11,"i":12,"gfp":0.98,"pe":2.23},{"id":"R11","level":11,"i":13,"gfp":0.96,"pe":1.83},{"id":"R11","level":11,"i":14,"gfp":0.92,"pe":1.39},{"id":"R11","level":11,"i":15,"gfp":0.87,"pe":0.99},{"id":"R11","level":11,"i":16,"gfp":0.78,"pe":0.71},{"id":"R11","level":11,"i":17,"gfp":0.67,"pe":0.49},{"id":"R11","level":11,"i":18,"gfp":0.54,"pe":0.31},{"id":"R11","level":11,"i":19,"gfp":0.36,"pe":0.21},
{"id":"R12","level":12,"i":0,"gfp":0.22,"pe":0.58},{"id":"R12","level":12,"i":1,"gfp":0.26,"pe":1.12},{"id":"R12","level":12,"i":2,"gfp":0.29,"pe":1.55},{"id":"R12","level":12,"i":3,"gfp":0.33,"pe":1.86},{"id":"R12","level":12,"i":4,"gfp":0.39,"pe":2.14},{"id":"R12","level":12,"i":5,"gfp":0.47,"pe":2.39},{"id":"R12","level":12,"i":6,"gfp":0.57,"pe":2.60},{"id":"R12","level":12,"i":7,"gfp":0.68,"pe":2.76},{"id":"R12","level":12,"i":8,"gfp":0.80,"pe":2.85},{"id":"R12","level":12,"i":9,"gfp":0.89,"pe":2.86},{"id":"R12","level":12,"i":10,"gfp":0.95,"pe":2.78},{"id":"R12","level":12,"i":11,"gfp":0.96,"pe":2.56},{"id":"R12","level":12,"i":12,"gfp":0.96,"pe":2.21},{"id":"R12","level":12,"i":13,"gfp":0.94,"pe":1.82},{"id":"R12","level":12,"i":14,"gfp":0.90,"pe":1.39},{"id":"R12","level":12,"i":15,"gfp":0.85,"pe":1.00},{"id":"R12","level":12,"i":16,"gfp":0.77,"pe":0.73},{"id":"R12","level":12,"i":17,"gfp":0.67,"pe":0.51},{"id":"R12","level":12,"i":18,"gfp":0.54,"pe":0.34},{"id":"R12","level":12,"i":19,"gfp":0.38,"pe":0.25},
{"id":"R13","level":13,"i":0,"gfp":0.33,"pe":0.62},{"id":"R13","level":13,"i":1,"gfp":0.30,"pe":1.00},{"id":"R13","level":13,"i":2,"gfp":0.35,"pe":1.40},{"id":"R13","level":13,"i":3,"gfp":0.41,"pe":1.75},{"id":"R13","level":13,"i":4,"gfp":0.46,"pe":2.10},{"id":"R13","level":13,"i":5,"gfp":0.56,"pe":2.42},{"id":"R13","level":13,"i":6,"gfp":0.70,"pe":2.58},{"id":"R13","level":13,"i":7,"gfp":0.82,"pe":2.60},{"id":"R13","level":13,"i":8,"gfp":0.89,"pe":2.50},{"id":"R13","level":13,"i":9,"gfp":0.88,"pe":2.22},{"id":"R13","level":13,"i":10,"gfp":0.83,"pe":1.97},{"id":"R13","level":13,"i":11,"gfp":0.78,"pe":1.72},{"id":"R13","level":13,"i":12,"gfp":0.77,"pe":1.38},{"id":"R13","level":13,"i":13,"gfp":0.74,"pe":1.00},{"id":"R13","level":13,"i":14,"gfp":0.66,"pe":0.70},{"id":"R13","level":13,"i":15,"gfp":0.50,"pe":0.56},
{"id":"R14","level":14,"i":0,"gfp":0.37,"pe":0.68},{"id":"R14","level":14,"i":1,"gfp":0.34,"pe":1.00},{"id":"R14","level":14,"i":2,"gfp":0.39,"pe":1.38},{"id":"R14","level":14,"i":3,"gfp":0.46,"pe":1.68},{"id":"R14","level":14,"i":4,"gfp":0.51,"pe":2.05},{"id":"R14","level":14,"i":5,"gfp":0.59,"pe":2.35},{"id":"R14","level":14,"i":6,"gfp":0.71,"pe":2.50},{"id":"R14","level":14,"i":7,"gfp":0.81,"pe":2.51},{"id":"R14","level":14,"i":8,"gfp":0.86,"pe":2.43},{"id":"R14","level":14,"i":9,"gfp":0.84,"pe":2.20},{"id":"R14","level":14,"i":10,"gfp":0.78,"pe":1.97},{"id":"R14","level":14,"i":11,"gfp":0.73,"pe":1.73},{"id":"R14","level":14,"i":12,"gfp":0.72,"pe":1.40},{"id":"R14","level":14,"i":13,"gfp":0.70,"pe":1.02},{"id":"R14","level":14,"i":14,"gfp":0.62,"pe":0.74},{"id":"R14","level":14,"i":15,"gfp":0.50,"pe":0.62},
{"id":"U15","level":15,"i":0,"gfp":0.55,"pe":1.50},{"id":"U15","level":15,"i":1,"gfp":0.56,"pe":1.85},{"id":"U15","level":15,"i":2,"gfp":0.61,"pe":2.15},{"id":"U15","level":15,"i":3,"gfp":0.66,"pe":2.36},{"id":"U15","level":15,"i":4,"gfp":0.73,"pe":2.44},{"id":"U15","level":15,"i":5,"gfp":0.80,"pe":2.44},{"id":"U15","level":15,"i":6,"gfp":0.82,"pe":2.36},{"id":"U15","level":15,"i":7,"gfp":0.79,"pe":2.18},{"id":"U15","level":15,"i":8,"gfp":0.72,"pe":2.00},{"id":"U15","level":15,"i":9,"gfp":0.67,"pe":1.75},{"id":"U15","level":15,"i":10,"gfp":0.66,"pe":1.53},{"id":"U15","level":15,"i":11,"gfp":0.61,"pe":1.45},
{"id":"U16","level":16,"i":0,"gfp":0.65,"pe":2.14},{"id":"U16","level":16,"i":1,"gfp":0.67,"pe":2.32},{"id":"U16","level":16,"i":2,"gfp":0.73,"pe":2.39},{"id":"U16","level":16,"i":3,"gfp":0.79,"pe":2.38},{"id":"U16","level":16,"i":4,"gfp":0.80,"pe":2.31},{"id":"U16","level":16,"i":5,"gfp":0.77,"pe":2.20},{"id":"U16","level":16,"i":6,"gfp":0.71,"pe":2.12},
{"id":"U17","level":17,"i":0,"gfp":0.69,"pe":2.22},{"id":"U17","level":17,"i":1,"gfp":0.71,"pe":2.32},{"id":"U17","level":17,"i":2,"gfp":0.75,"pe":2.36},{"id":"U17","level":17,"i":3,"gfp":0.78,"pe":2.34},{"id":"U17","level":17,"i":4,"gfp":0.78,"pe":2.28},{"id":"U17","level":17,"i":5,"gfp":0.75,"pe":2.22},{"id":"U17","level":17,"i":6,"gfp":0.72,"pe":2.20},
{"id":"U18","level":18,"i":0,"gfp":0.72,"pe":2.26},{"id":"U18","level":18,"i":1,"gfp":0.73,"pe":2.31},{"id":"U18","level":18,"i":2,"gfp":0.75,"pe":2.33},{"id":"U18","level":18,"i":3,"gfp":0.76,"pe":2.29},{"id":"U18","level":18,"i":4,"gfp":0.74,"pe":2.26},
{"id":"M16","level":16,"i":0,"gfp":0.58,"pe":1.52},{"id":"M16","level":16,"i":1,"gfp":0.59,"pe":1.68},{"id":"M16","level":16,"i":2,"gfp":0.63,"pe":1.75},{"id":"M16","level":16,"i":3,"gfp":0.65,"pe":1.68},{"id":"M16","level":16,"i":4,"gfp":0.64,"pe":1.53},{"id":"M16","level":16,"i":5,"gfp":0.61,"pe":1.48},
{"id":"M17","level":17,"i":0,"gfp":0.60,"pe":1.57},{"id":"M17","level":17,"i":1,"gfp":0.61,"pe":1.65},{"id":"M17","level":17,"i":2,"gfp":0.63,"pe":1.68},{"id":"M17","level":17,"i":3,"gfp":0.63,"pe":1.62},{"id":"M17","level":17,"i":4,"gfp":0.62,"pe":1.56},
{"id":"W15","level":15,"i":0,"gfp":0.41,"pe":0.74},{"id":"W15","level":15,"i":1,"gfp":0.38,"pe":0.95},{"id":"W15","level":15,"i":2,"gfp":0.40,"pe":1.20},{"id":"W15","level":15,"i":3,"gfp":0.47,"pe":1.31},{"id":"W15","level":15,"i":4,"gfp":0.57,"pe":1.30},{"id":"W15","level":15,"i":5,"gfp":0.64,"pe":1.18},{"id":"W15","level":15,"i":6,"gfp":0.65,"pe":1.00},{"id":"W15","level":15,"i":7,"gfp":0.61,"pe":0.80},{"id":"W15","level":15,"i":8,"gfp":0.51,"pe":0.71},
{"id":"W16","level":16,"i":0,"gfp":0.43,"pe":0.78},{"id":"W16","level":16,"i":1,"gfp":0.40,"pe":0.95},{"id":"W16","level":16,"i":2,"gfp":0.42,"pe":1.16},{"id":"W16","level":16,"i":3,"gfp":0.48,"pe":1.25},{"id":"W16","level":16,"i":4,"gfp":0.56,"pe":1.24},{"id":"W16","level":16,"i":5,"gfp":0.62,"pe":1.13},{"id":"W16","level":16,"i":6,"gfp":0.62,"pe":0.97},{"id":"W16","level":16,"i":7,"gfp":0.58,"pe":0.82},{"id":"W16","level":16,"i":8,"gfp":0.50,"pe":0.75},
{"id":"W17","level":17,"i":0,"gfp":0.44,"pe":0.81},{"id":"W17","level":17,"i":1,"gfp":0.42,"pe":0.95},{"id":"W17","level":17,"i":2,"gfp":0.44,"pe":1.11},{"id":"W17","level":17,"i":3,"gfp":0.50,"pe":1.19},{"id":"W17","level":17,"i":4,"gfp":0.56,"pe":1.17},{"id":"W17","level":17,"i":5,"gfp":0.60,"pe":1.07},{"id":"W17","level":17,"i":6,"gfp":0.59,"pe":0.94},{"id":"W17","level":17,"i":7,"gfp":0.56,"pe":0.84},{"id":"W17","level":17,"i":8,"gfp":0.50,"pe":0.79},
{"id":"W18","level":18,"i":0,"gfp":0.46,"pe":0.85},{"id":"W18","level":18,"i":1,"gfp":0.44,"pe":0.95},{"id":"W18","level":18,"i":2,"gfp":0.46,"pe":1.06},{"id":"W18","level":18,"i":3,"gfp":0.51,"pe":1.11},{"id":"W18","level":18,"i":4,"gfp":0.55,"pe":1.09},{"id":"W18","level":18,"i":5,"gfp":0.57,"pe":1.01},{"id":"W18","level":18,"i":6,"gfp":0.55,"pe":0.91},{"id":"W18","level":18,"i":7,"gfp":0.51,"pe":0.86},
{"id":"W19","level":19,"i":0,"gfp":0.48,"pe":0.89},{"id":"W19","level":19,"i":1,"gfp":0.47,"pe":0.96},{"id":"W19","level":19,"i":2,"gfp":0.49,"pe":1.02},{"id":"W19","level":19,"i":3,"gfp":0.52,"pe":1.04},{"id":"W19","level":19,"i":4,"gfp":0.54,"pe":1.00},{"id":"W19","level":19,"i":5,"gfp":0.53,"pe":0.93},{"id":"W19","level":19,"i":6,"gfp":0.50,"pe":0.89},
{"id":"T1","level":5,"i":0,"gfp":1.40,"pe":2.58},{"id":"T1","level":5,"i":1,"gfp":1.60,"pe":2.66},{"id":"T1","level":5,"i":2,"gfp":1.88,"pe":2.62},{"id":"T1","level":5,"i":3,"gfp":2.08,"pe":2.50},{"id":"T1","level":5,"i":4,"gfp":2.12,"pe":2.35},{"id":"T1","level":5,"i":5,"gfp":1.98,"pe":2.22},{"id":"T1","level":5,"i":6,"gfp":1.74,"pe":2.17},{"id":"T1","level":5,"i":7,"gfp":1.52,"pe":2.20},{"id":"T1","level":5,"i":8,"gfp":1.40,"pe":2.36},
{"id":"T2","level":7,"i":0,"gfp":1.58,"pe":2.31},{"id":"T2","level":7,"i":1,"gfp":1.62,"pe":2.36},{"id":"T2","level":7,"i":2,"gfp":1.67,"pe":2.31},{"id":"T2","level":7,"i":3,"gfp":1.62,"pe":2.27}
],
"gateL": [{"gx": 1.217, "gy": 1.327}],
"gateR": [{"gx": 1.218, "gy": 1.327}],
"statsL": [{"tx":0.48,"ty":3.80,"t":"0,0 %"},{"tx":3.57,"ty":3.80,"t":"0,0 %"},{"tx":1.245,"ty":0.16,"t":"99,7 %"},{"tx":3.57,"ty":0.16,"t":"0,3 %"}],
"statsR": [{"tx":0.49,"ty":3.80,"t":"46,1 %"},{"tx":3.56,"ty":3.80,"t":"21,6 %"},{"tx":1.055,"ty":0.16,"t":"31,7 %"},{"tx":3.6,"ty":0.16,"t":"0,7 %"}]
},
"hconcat": [
{
"width": 424, "height": 422,
"title": {"text": "(a) HEK293T Zellen (Kontrolle)", "font": "Liberation Serif", "fontSize": 21, "fontWeight": "normal", "color": "#111", "offset": 47, "dx": -43},
"layer": [
{"data": {"name": "left"},
 "mark": {"type": "line", "interpolate": "cardinal-closed", "tension": 0.3, "strokeWidth": 1.1, "clip": true},
 "encoding": {
  "x": {"field": "gfp", "type": "quantitative", "scale": {"domain": [0, 4], "nice": false, "zero": false},
        "axis": {"orient": "bottom", "values": [0,1,2,3,4], "tickSize": 21, "tickWidth": 3, "tickColor": "#000", "domainColor": "#000", "domainWidth": 3, "labelExpr": "'10'", "labelFont": "Liberation Sans", "labelFontSize": 21, "labelColor": "#000", "labelAlign": "right", "labelBaseline": "top", "labelOffset": -10, "labelPadding": 11, "labelFlush": false, "labelOverlap": false, "labelBound": false, "title": "GFP", "titleFont": "Liberation Serif", "titleFontSize": 20, "titleFontWeight": "bold", "titleColor": "#000", "titlePadding": 1, "grid": false, "zindex": 1}},
  "y": {"field": "pe", "type": "quantitative", "scale": {"domain": [0, 4], "nice": false, "zero": false},
        "axis": {"orient": "left", "values": [0,1,2,3,4], "tickSize": 21, "tickWidth": 3, "tickColor": "#000", "domainColor": "#000", "domainWidth": 3, "labelExpr": "'10\u2009' + ['⁰','¹','²','³','⁴'][datum.value]", "labelFont": "Liberation Sans", "labelFontSize": 21, "labelColor": "#000", "labelAngle": 270, "labelAlign": "right", "labelBaseline": "bottom", "labelOffset": -7, "labelPadding": 5, "labelFlush": false, "labelOverlap": false, "labelBound": false, "title": "α-PD-1-PE   (Klon 4F10)", "titleFont": "Liberation Serif", "titleFontSize": 24, "titleFontWeight": "bold", "titleColor": "#000", "titlePadding": 6, "grid": false, "zindex": 1}},
  "detail": {"field": "id"},
  "order": {"field": "i", "type": "quantitative"},
  "color": {"field": "level", "type": "quantitative", "scale": {"domain": [1, 8, 9, 13], "range": ["#4f3354", "#6b4673", "#b0a2b3", "#e2e2e2"]}, "legend": null}
 }},
{"data": {"name": "gateL"},
 "mark": {"type": "rule", "color": "#3a3a3a", "strokeWidth": 1},
 "encoding": {
  "x": {"field": "gx", "type": "quantitative", "scale": {"domain": [0, 4], "nice": false, "zero": false},
        "axis": {"orient": "bottom", "values": [0.301,0.477,0.602,0.699,0.778,0.845,0.903,0.954,1.301,1.477,1.602,1.699,1.778,1.845,1.903,1.954,2.301,2.477,2.602,2.699,2.778,2.845,2.903,2.954,3.301,3.477,3.602,3.699,3.778,3.845,3.903,3.954], "tickSize": 10, "tickWidth": 2, "tickColor": "#000", "labels": false, "domain": false, "grid": false, "title": null, "zindex": 1}}
 }},
{"data": {"name": "gateL"},
 "mark": {"type": "rule", "color": "#3a3a3a", "strokeWidth": 1},
 "encoding": {
  "y": {"field": "gy", "type": "quantitative", "scale": {"domain": [0, 4], "nice": false, "zero": false},
        "axis": {"orient": "left", "values": [0.301,0.477,0.602,0.699,0.778,0.845,0.903,0.954,1.301,1.477,1.602,1.699,1.778,1.845,1.903,1.954,2.301,2.477,2.602,2.699,2.778,2.845,2.903,2.954,3.301,3.477,3.602,3.699,3.778,3.845,3.903,3.954], "tickSize": 10, "tickWidth": 2, "tickColor": "#000", "labels": false, "domain": false, "grid": false, "title": null, "zindex": 1}}
 }},
{"data": {"name": "statsL"},
 "mark": {"type": "text", "font": "Liberation Serif", "fontSize": 20, "color": "#1a1a1a"},
 "encoding": {
  "x": {"field": "tx", "type": "quantitative", "scale": {"domain": [0, 4], "nice": false, "zero": false},
        "axis": {"orient": "bottom", "values": [0,1,2,3,4], "ticks": false, "tickSize": 0, "domain": false, "grid": false, "format": "d", "labelFont": "Liberation Sans", "labelFontSize": 14, "labelColor": "#000", "labelAlign": "left", "labelBaseline": "top", "labelOffset": 2, "labelPadding": 21, "labelFlush": false, "labelOverlap": false, "labelBound": false, "title": null}},
  "y": {"field": "ty", "type": "quantitative", "scale": {"domain": [0, 4], "nice": false, "zero": false}, "axis": null},
  "text": {"field": "t"}
 }}
],
"resolve": {"axis": {"x": "independent", "y": "independent"}}
},
{
"width": 440, "height": 422,
"title": {"text": "(b) HEK293T Zellen (transfiziert mit PD-1)", "font": "Liberation Serif", "fontSize": 21, "fontWeight": "normal", "color": "#111", "offset": 47, "dx": -53},
"layer": [
{"data": {"name": "right"},
 "mark": {"type": "line", "interpolate": "cardinal-closed", "tension": 0.3, "strokeWidth": 1.1, "clip": true},
 "encoding": {
  "x": {"field": "gfp", "type": "quantitative", "scale": {"domain": [0, 4], "nice": false, "zero": false},
        "axis": {"orient": "bottom", "values": [0,1,2,3,4], "tickSize": 21, "tickWidth": 3, "tickColor": "#000", "domainColor": "#000", "domainWidth": 3, "labelExpr": "'10'", "labelFont": "Liberation Sans", "labelFontSize": 21, "labelColor": "#000", "labelAlign": "right", "labelBaseline": "top", "labelOffset": -10, "labelPadding": 11, "labelFlush": false, "labelOverlap": false, "labelBound": false, "title": "GFP", "titleFont": "Liberation Serif", "titleFontSize": 20, "titleFontWeight": "bold", "titleColor": "#000", "titlePadding": 1, "grid": false, "zindex": 1}},
  "y": {"field": "pe", "type": "quantitative", "scale": {"domain": [0, 4], "nice": false, "zero": false},
        "axis": {"orient": "left", "values": [0,1,2,3,4], "tickSize": 21, "tickWidth": 3, "tickColor": "#000", "domainColor": "#000", "domainWidth": 3, "labelExpr": "'10\u2009' + ['⁰','¹','²','³','⁴'][datum.value]", "labelFont": "Liberation Sans", "labelFontSize": 21, "labelColor": "#000", "labelAngle": 270, "labelAlign": "right", "labelBaseline": "bottom", "labelOffset": -7, "labelPadding": 5, "labelFlush": false, "labelOverlap": false, "labelBound": false, "title": "α-PD-1-PE   (Klon 4F10)", "titleFont": "Liberation Serif", "titleFontSize": 24, "titleFontWeight": "bold", "titleColor": "#000", "titlePadding": 6, "grid": false, "zindex": 1}},
  "detail": {"field": "id"},
  "order": {"field": "i", "type": "quantitative"},
  "color": {"field": "level", "type": "quantitative", "scale": {"domain": [1, 12, 14, 19], "range": ["#4f3354", "#6b4673", "#b0a2b3", "#e4e4e4"]}, "legend": null}
 }},
{"data": {"name": "gateR"},
 "mark": {"type": "rule", "color": "#3a3a3a", "strokeWidth": 1},
 "encoding": {
  "x": {"field": "gx", "type": "quantitative", "scale": {"domain": [0, 4], "nice": false, "zero": false},
        "axis": {"orient": "bottom", "values": [0.301,0.477,0.602,0.699,0.778,0.845,0.903,0.954,1.301,1.477,1.602,1.699,1.778,1.845,1.903,1.954,2.301,2.477,2.602,2.699,2.778,2.845,2.903,2.954,3.301,3.477,3.602,3.699,3.778,3.845,3.903,3.954], "tickSize": 10, "tickWidth": 2, "tickColor": "#000", "labels": false, "domain": false, "grid": false, "title": null, "zindex": 1}}
 }},
{"data": {"name": "gateR"},
 "mark": {"type": "rule", "color": "#3a3a3a", "strokeWidth": 1},
 "encoding": {
  "y": {"field": "gy", "type": "quantitative", "scale": {"domain": [0, 4], "nice": false, "zero": false},
        "axis": {"orient": "left", "values": [0.301,0.477,0.602,0.699,0.778,0.845,0.903,0.954,1.301,1.477,1.602,1.699,1.778,1.845,1.903,1.954,2.301,2.477,2.602,2.699,2.778,2.845,2.903,2.954,3.301,3.477,3.602,3.699,3.778,3.845,3.903,3.954], "tickSize": 10, "tickWidth": 2, "tickColor": "#000", "labels": false, "domain": false, "grid": false, "title": null, "zindex": 1}}
 }},
{"data": {"name": "statsR"},
 "mark": {"type": "text", "font": "Liberation Serif", "fontSize": 20, "color": "#1a1a1a"},
 "encoding": {
  "x": {"field": "tx", "type": "quantitative", "scale": {"domain": [0, 4], "nice": false, "zero": false},
        "axis": {"orient": "bottom", "values": [0,1,2,3,4], "ticks": false, "tickSize": 0, "domain": false, "grid": false, "format": "d", "labelFont": "Liberation Sans", "labelFontSize": 14, "labelColor": "#000", "labelAlign": "left", "labelBaseline": "top", "labelOffset": 2, "labelPadding": 21, "labelFlush": false, "labelOverlap": false, "labelBound": false, "title": null}},
  "y": {"field": "ty", "type": "quantitative", "scale": {"domain": [0, 4], "nice": false, "zero": false}, "axis": null},
  "text": {"field": "t"}
 }}
],
"resolve": {"axis": {"x": "independent", "y": "independent"}}
}
]
}
